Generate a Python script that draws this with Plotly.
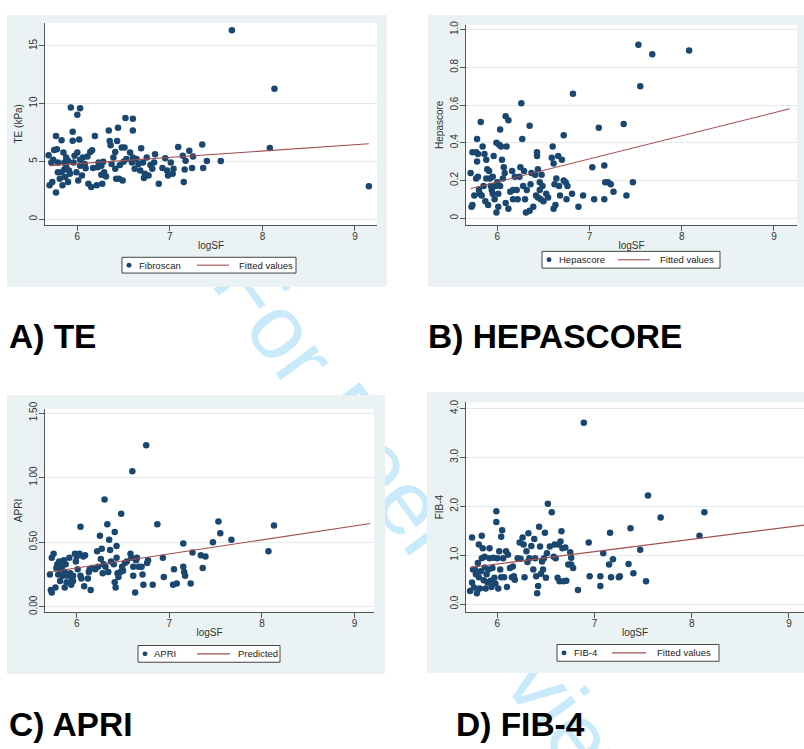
import plotly.graph_objects as go

W, H = 804, 749
FONT = "Liberation Sans, Arial, Helvetica, sans-serif"
NAVY = "#1a476f"
MAROON = "#a24f4f"
PANEL_BG = "#EAF2F3"

# ---------------- data ----------------
te_logsf = [5.69,5.72,5.70,5.73,5.74,5.75,5.77,5.77,5.78,5.79,
            5.79,5.81,5.83,5.83,5.84,5.85,5.86,5.86,5.87,5.88,
            5.88,5.90,5.90,5.91,5.92,5.93,6.03,6.00,5.95,5.95,
            5.96,5.97,5.99,6.00,6.01,6.02,6.03,6.03,6.05,6.06,
            6.08,6.09,6.11,6.12,6.14,6.15,6.16,6.17,6.19,6.21,
            6.22,6.23,6.26,6.26,6.27,6.28,6.29,6.31,6.34,6.35,
            6.36,6.37,6.39,6.41,6.41,6.42,6.43,6.44,6.45,6.46,
            6.48,6.49,6.50,6.51,6.52,6.53,6.57,6.59,6.60,6.60,
            6.60,6.62,6.64,6.66,6.68,6.69,6.71,6.72,6.73,6.75,
            6.77,6.79,6.81,6.83,6.84,6.88,6.92,6.95,6.97,6.98,
            7.01,7.03,7.04,7.09,7.14,7.15,7.16,7.17,7.21,7.24,
            7.25,7.35,7.36,7.40,7.55,7.67,8.08,8.13,9.15]
te_kpa = [5.54,4.91,2.93,3.21,5.14,5.99,7.19,2.30,6.05,4.91,
          4.06,3.49,4.06,6.82,2.93,5.77,4.91,4.29,3.64,5.34,
          4.49,3.21,5.06,4.20,3.92,9.66,9.60,9.03,7.56,6.79,
          4.91,5.48,4.06,5.77,3.35,6.90,5.14,4.63,3.78,5.34,
          4.77,4.40,5.43,3.07,5.82,2.78,5.97,4.43,7.19,2.93,
          4.49,4.91,3.84,4.63,3.07,4.97,4.06,3.69,7.67,6.76,
          6.39,4.77,5.34,4.35,5.82,3.49,6.76,7.90,3.49,4.69,
          6.19,3.35,4.97,6.19,8.75,5.20,5.77,4.91,5.34,8.69,
          7.67,4.35,5.20,4.77,4.20,6.14,4.91,3.55,3.92,5.34,
          3.78,4.69,4.35,4.91,5.62,3.07,4.43,5.26,4.20,3.78,
          4.91,3.92,4.35,6.25,5.48,3.21,4.29,5.06,5.91,4.43,
          5.43,6.45,4.43,5.03,5.03,16.36,6.16,11.28,2.84]
te_fit_x = [5.70, 9.15]
te_fit_y = [4.63, 6.53]

hep_logsf = [5.71,5.72,5.73,5.73,5.75,5.77,5.77,5.78,5.78,5.79,
             5.79,5.80,5.81,5.82,5.83,5.84,5.85,5.86,5.87,5.88,
             5.88,5.89,5.90,5.91,5.92,5.93,5.94,5.95,5.95,5.96,
             5.97,5.98,5.99,5.99,6.00,6.01,6.01,6.02,6.03,6.03,
             6.04,6.05,6.06,6.07,6.08,6.09,6.09,6.10,6.12,6.12,
             6.14,6.16,6.17,6.17,6.19,6.21,6.22,6.24,6.25,6.26,
             6.27,6.28,6.29,6.30,6.31,6.32,6.35,6.35,6.36,6.37,
             6.39,6.41,6.42,6.43,6.43,6.44,6.44,6.46,6.46,6.47,
             6.48,6.49,6.50,6.53,6.55,6.59,6.60,6.61,6.61,6.62,
             6.63,6.64,6.66,6.67,6.68,6.70,6.72,6.72,6.74,6.75,
             6.76,6.81,6.82,6.88,6.93,7.03,7.05,7.10,7.16,7.16,
             7.17,7.20,7.23,7.26,7.37,7.40,7.47,7.53,7.55,7.68,
             8.08]
hepascore = [0.24,0.06,0.07,0.35,0.12,0.35,0.21,0.42,0.30,0.34,
             0.22,0.15,0.13,0.51,0.12,0.38,0.17,0.34,0.09,0.31,
             0.21,0.26,0.07,0.25,0.21,0.17,0.15,0.22,0.13,0.33,
             0.10,0.17,0.03,0.40,0.19,0.06,0.13,0.39,0.47,0.17,
             0.38,0.31,0.21,0.27,0.24,0.54,0.08,0.38,0.52,0.05,
             0.14,0.25,0.15,0.10,0.22,0.15,0.10,0.22,0.27,0.61,
             0.42,0.17,0.25,0.10,0.03,0.15,0.49,0.04,0.18,0.24,
             0.06,0.23,0.12,0.33,0.35,0.26,0.11,0.19,0.15,0.10,
             0.23,0.17,0.09,0.13,0.11,0.32,0.38,0.29,0.05,0.18,
             0.07,0.21,0.33,0.17,0.12,0.31,0.44,0.20,0.19,0.10,
             0.17,0.13,0.66,0.06,0.12,0.27,0.10,0.48,0.28,0.10,
             0.19,0.19,0.18,0.14,0.50,0.12,0.19,0.92,0.70,0.87,
             0.89]
hep_fit_x = [5.71, 9.17]
hep_fit_y = [0.157, 0.58]

apri_logsf = [5.71,5.72,5.73,5.73,5.75,5.77,5.78,5.79,5.80,5.81,
              5.82,5.83,5.84,5.85,5.86,5.87,5.87,5.88,5.89,5.90,
              5.92,5.93,5.94,5.95,5.96,5.96,5.98,5.99,6.00,6.01,
              6.03,6.04,6.04,6.05,6.07,6.08,6.09,6.12,6.13,6.14,
              6.15,6.17,6.20,6.22,6.23,6.25,6.26,6.27,6.28,6.29,
              6.30,6.31,6.33,6.34,6.35,6.36,6.37,6.40,6.41,6.41,
              6.42,6.43,6.43,6.44,6.45,6.47,6.48,6.49,6.50,6.52,
              6.54,6.58,6.59,6.60,6.61,6.61,6.63,6.64,6.65,6.67,
              6.70,6.71,6.72,6.75,6.76,6.77,6.82,6.87,6.93,6.94,
              7.04,7.05,7.08,7.15,7.15,7.16,7.17,7.23,7.25,7.34,
              7.36,7.39,7.47,7.53,7.55,7.67,8.07,8.13]
apri = [0.25,0.13,0.11,0.38,0.41,0.15,0.30,0.33,0.25,0.35,
        0.20,0.29,0.31,0.24,0.36,0.27,0.15,0.33,0.19,0.24,
        0.38,0.26,0.17,0.21,0.24,0.20,0.41,0.35,0.39,0.29,
        0.41,0.24,0.62,0.22,0.39,0.16,0.40,0.22,0.27,0.29,
        0.13,0.30,0.29,0.43,0.31,0.55,0.37,0.45,0.26,0.33,
        0.83,0.31,0.64,0.27,0.52,0.44,0.35,0.33,0.19,0.58,
        0.15,0.47,0.38,0.26,0.23,0.27,0.72,0.31,0.28,0.34,
        0.35,0.41,0.38,1.05,0.24,0.31,0.11,0.36,0.38,0.31,
        0.31,0.25,0.17,1.25,0.34,0.36,0.17,0.64,0.38,0.23,
        0.17,0.29,0.18,0.31,0.49,0.27,0.24,0.18,0.42,0.40,
        0.30,0.39,0.50,0.66,0.57,0.52,0.43,0.63]
apri_fit_x = [5.71, 9.17]
apri_fit_y = [0.27, 0.645]

fib4_logsf = [5.72,5.74,5.74,5.75,5.76,5.77,5.78,5.79,5.80,5.81,
              5.81,5.82,5.83,5.84,5.84,5.85,5.86,5.87,5.87,5.88,
              5.89,5.90,5.91,5.92,5.92,5.93,5.94,5.95,5.96,5.97,
              5.98,5.99,5.99,6.00,6.01,6.02,6.03,6.04,6.04,6.05,
              6.06,6.07,6.09,6.10,6.11,6.13,6.15,6.16,6.17,6.18,
              6.21,6.23,6.24,6.26,6.27,6.28,6.30,6.31,6.32,6.33,
              6.35,6.37,6.38,6.39,6.40,6.41,6.42,6.43,6.44,6.45,
              6.46,6.47,6.48,6.49,6.50,6.51,6.52,6.54,6.56,6.58,
              6.59,6.60,6.62,6.63,6.64,6.65,6.66,6.67,6.68,6.70,
              6.71,6.73,6.75,6.76,6.76,6.78,6.83,6.89,6.94,6.95,
              7.06,7.06,7.09,7.15,7.16,7.17,7.19,7.25,7.26,7.35,
              7.37,7.40,7.47,7.53,7.55,7.68,8.08,8.13]
fib4 = [0.27,1.36,0.44,0.71,0.34,0.71,0.61,0.22,0.84,0.55,
        1.22,0.32,0.67,0.94,1.40,1.14,0.49,0.75,0.97,0.32,
        0.61,0.44,0.71,1.14,0.94,0.48,0.35,0.74,0.95,0.54,
        0.42,1.90,1.68,0.94,0.32,1.08,0.71,1.38,0.55,1.51,
        0.94,0.55,1.08,0.35,1.01,0.74,0.55,0.77,0.57,0.50,
        0.94,1.26,0.93,1.36,1.22,0.55,1.08,0.86,1.45,0.94,
        1.19,0.71,1.33,0.94,0.57,0.22,0.37,1.58,1.18,0.62,
        0.87,0.71,0.94,1.46,0.54,1.04,2.05,1.18,1.88,0.97,
        1.22,0.94,0.54,1.22,0.47,1.28,1.49,1.14,0.47,1.16,
        0.48,0.81,1.06,0.95,0.81,0.74,0.29,3.71,1.26,0.57,
        0.57,0.37,1.04,0.81,1.46,0.55,0.92,0.55,0.57,0.82,
        1.55,0.63,1.11,0.47,2.22,1.77,1.40,1.88]
fib4_fit_x = [5.72, 9.17]
fib4_fit_y = [0.75, 1.62]

x_ticks = [6, 7, 8, 9]
te_ticks = [0, 5, 10, 15]
te_ticktext = ["0", "5", "10", "15"]
hep_ticks = [0, 0.2, 0.4, 0.6, 0.8, 1.0]
hep_ticktext = ["0", "0.2", "0.4", "0.6", "0.8", "1.0"]
apri_ticks = [0, 0.5, 1.0, 1.5]
apri_ticktext = ["0.00", "0.50", "1.00", "1.50"]
fib4_ticks = [0, 1, 2, 3, 4]
fib4_ticktext = ["0.0", "1.0", "2.0", "3.0", "4.0"]

# ---------------- layout (pixel geometry) ----------------
def px(x):
    return x / W

def py(y):
    return 1 - y / H

panels = [
    dict(x=te_logsf, y=te_kpa, fx=te_fit_x, fy=te_fit_y, ytitle="TE (kPa)",
         name="Fibroscan", fitname="Fitted values", yt=te_ticks, ytt=te_ticktext,
         bg=(7, 7, 387, 283), plot=(45, 15, 377, 220),
         xr=[5.651, 9.238], yr=[-0.49, 17.0],
         leg=(122, 253, 296, 269), dot=129, t1=137, ln=(197, 229), t2=237,
         label="A) TE", lab_xy=(7, 333)),
    dict(x=hep_logsf, y=hepascore, fx=hep_fit_x, fy=hep_fit_y, ytitle="Hepascore",
         name="Hepascore", fitname="Fitted values", yt=hep_ticks, ytt=hep_ticktext,
         bg=(428, 7, 804, 283), plot=(466, 17, 797, 220),
         xr=[5.66, 9.25], yr=[-0.035, 1.026],
         leg=(542, 247, 720, 264), dot=549, t1=557, ln=(618, 650), t2=658,
         label="B) HEPASCORE", lab_xy=(426, 333)),
    dict(x=apri_logsf, y=apri, fx=apri_fit_x, fy=apri_fit_y, ytitle="APRI",
         name="APRI", fitname="Predicted", yt=apri_ticks, ytt=apri_ticktext,
         bg=(7, 393, 385, 676), plot=(45, 407, 374, 613),
         xr=[5.657, 9.21], yr=[-0.040, 1.531],
         leg=(138, 647, 280, 664), dot=145, t1=152, ln=(197, 230), t2=236,
         label="C) APRI", lab_xy=(7, 727)),
    dict(x=fib4_logsf, y=fib4, fx=fib4_fit_x, fy=fib4_fit_y, ytitle="FIB-4",
         name="FIB-4", fitname="Fitted values", yt=fib4_ticks, ytt=fib4_ticktext,
         bg=(427, 390, 804, 675), plot=(466, 400, 804, 613),
         xr=[5.678, 9.155], yr=[-0.161, 4.13],
         leg=(557, 646, 719, 663), dot=564, t1=572, ln=(612, 646), t2=655,
         label="D) FIB-4", lab_xy=(454, 727)),
]

fig = go.Figure()
shapes = []
annotations = []

# watermark (drawn below the panels)
wm_mid = (442, 532)
wm_dir = (0.585, 0.811)
shapes.append(dict(
    type="line", xref="paper", yref="paper", layer="below",
    x0=px(wm_mid[0] - 100 * wm_dir[0]), y0=py(wm_mid[1] - 100 * wm_dir[1]),
    x1=px(wm_mid[0] + 100 * wm_dir[0]), y1=py(wm_mid[1] + 100 * wm_dir[1]),
    line=dict(color="rgba(0,0,0,0)", width=0),
    label=dict(text="For Peer Review", textposition="middle",
               yanchor="middle", padding=0,
               font=dict(family=FONT, size=91, color="#C9EAFA")),
))

for i, p in enumerate(panels):
    k = "" if i == 0 else str(i + 1)
    bx0, by0, bx1, by1 = p["bg"]
    shapes.append(dict(type="rect", xref="paper", yref="paper", layer="below",
                       x0=px(bx0), x1=px(bx1), y0=py(by1), y1=py(by0),
                       fillcolor=PANEL_BG, line=dict(width=0)))
    qx0, qy0, qx1, qy1 = p["plot"]
    shapes.append(dict(type="rect", xref="paper", yref="paper", layer="below",
                       x0=px(qx0), x1=px(qx1), y0=py(qy1), y1=py(qy0),
                       fillcolor="white", line=dict(width=0)))

    fig.add_trace(go.Scatter(
        x=p["x"], y=p["y"], mode="markers", name=p["name"], showlegend=False,
        marker=dict(color=NAVY, size=6.5, line=dict(width=0)),
        xaxis="x" + k, yaxis="y" + k, cliponaxis=False))
    fig.add_trace(go.Scatter(
        x=p["fx"], y=p["fy"], mode="lines", name=p["fitname"], showlegend=False,
        line=dict(color=MAROON, width=1.1),
        xaxis="x" + k, yaxis="y" + k))

    axis_common = dict(showline=True, linecolor="#555", linewidth=1,
                       ticks="outside", ticklen=5, tickcolor="#555", tickwidth=1,
                       zeroline=False, tickfont=dict(family=FONT, size=10, color="#333"))
    fig.update_layout(**{
        "xaxis" + k: dict(domain=[px(qx0), px(qx1)], range=p["xr"], anchor="y" + k,
                          tickvals=x_ticks, showgrid=False, ticklabelstandoff=-3,
                          title=dict(text="logSF", standoff=1,
                                     font=dict(family=FONT, size=10, color="#333")),
                          **axis_common),
        "yaxis" + k: dict(domain=[py(qy1), py(qy0)], range=p["yr"], anchor="x" + k,
                          tickvals=p["yt"], ticktext=p["ytt"], tickangle=-90,
                          ticklabelstandoff=-2,
                          showgrid=True, gridcolor="#E3EBED", gridwidth=1,
                          title=dict(text=p["ytitle"], standoff=3,
                                     font=dict(family=FONT, size=10, color="#333")),
                          **axis_common),
    })

    # legend box (Stata style)
    lx0, ly0, lx1, ly1 = p["leg"]
    yc = (ly0 + ly1) / 2
    shapes.append(dict(type="rect", xref="paper", yref="paper",
                       x0=px(lx0), x1=px(lx1), y0=py(ly1), y1=py(ly0),
                       fillcolor="white", line=dict(color="#444", width=1)))
    shapes.append(dict(type="circle", xref="paper", yref="paper",
                       x0=px(p["dot"] - 2.5), x1=px(p["dot"] + 2.5),
                       y0=py(yc + 2.5), y1=py(yc - 2.5),
                       fillcolor=NAVY, line=dict(width=0)))
    shapes.append(dict(type="line", xref="paper", yref="paper",
                       x0=px(p["ln"][0]), x1=px(p["ln"][1]), y0=py(yc), y1=py(yc),
                       line=dict(color=MAROON, width=1.1)))
    for txt, tx in ((p["name"], p["t1"]), (p["fitname"], p["t2"])):
        annotations.append(dict(text=txt, x=px(tx), y=py(yc), xref="paper", yref="paper",
                                xanchor="left", yanchor="middle", showarrow=False,
                                font=dict(family=FONT, size=9.5, color="#222")))

    # panel label
    annotations.append(dict(text="<b>%s</b>" % p["label"], x=px(p["lab_xy"][0]),
                            y=py(p["lab_xy"][1]), xref="paper", yref="paper",
                            xanchor="left", yanchor="middle", showarrow=False,
                            font=dict(family=FONT, size=33.5, color="black")))

fig.update_layout(
    width=W, height=H, margin=dict(l=0, r=0, t=0, b=0),
    paper_bgcolor="white", plot_bgcolor="rgba(0,0,0,0)",
    showlegend=False, shapes=shapes, annotations=annotations,
    font=dict(family=FONT),
)

fig.write_html("out.html", config={"displayModeBar": False},
               post_script="document.body.style.margin='0';document.body.style.padding='0';")
